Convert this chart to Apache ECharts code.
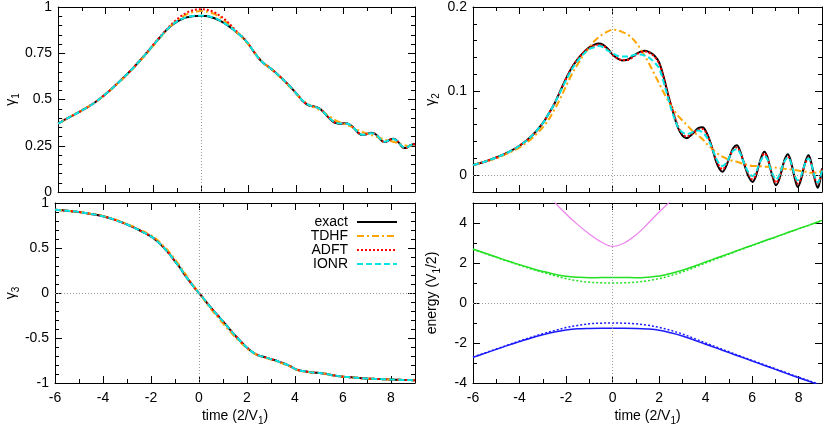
<!DOCTYPE html>
<html><head><meta charset="utf-8">
<script src="https://cdn.jsdelivr.net/npm/echarts@6/dist/echarts.min.js"></script>
<style>html,body{margin:0;padding:0;background:#fff}#c{width:830px;height:436px}</style>
</head><body><div id="c"></div>
<script>
// ---------- data ----------
const time = [-6,-5.5,-5,-4.5,-4,-3.5,-3,-2.75,-2.5,-2.25,
  -2,-1.75,-1.5,-1.25,-1,-0.8,-0.6,-0.4,-0.2,0,
  0.2,0.4,0.6,0.8,1.0,1.2,1.4,1.6,1.8,2.0,
  2.2,2.4,2.6,2.8,3.0,3.18,3.35,3.5,3.68,3.86,
  4.05,4.25,4.45,4.6,4.72,4.87,5.03,5.18,5.34,5.5,
  5.68,5.85,6.02,6.15,6.27,6.4,6.52,6.65,6.77,6.9,
  7.02,7.15,7.27,7.4,7.53,7.64,7.75,7.85,7.96,8.08,
  8.19,8.31,8.42,8.52,8.62,8.72,8.82,8.92,9.0];

const g1Exact = [0.370,0.406,0.441,0.480,0.530,0.588,0.650,0.684,0.719,0.756,
  0.794,0.831,0.868,0.899,0.921,0.935,0.944,0.949,0.952,0.952,
  0.951,0.946,0.938,0.926,0.911,0.894,0.874,0.853,0.830,0.800,
  0.763,0.728,0.700,0.681,0.661,0.641,0.621,0.602,0.579,0.555,
  0.527,0.496,0.474,0.466,0.463,0.458,0.447,0.428,0.406,0.386,
  0.372,0.368,0.372,0.371,0.363,0.350,0.333,0.316,0.308,0.310,
  0.316,0.320,0.318,0.306,0.287,0.273,0.270,0.276,0.284,0.288,
  0.284,0.268,0.250,0.239,0.238,0.245,0.253,0.258,0.259];
const g1TDHF = [0.370,0.406,0.441,0.480,0.529,0.586,0.647,0.681,0.716,0.753,
  0.791,0.829,0.866,0.900,0.928,0.946,0.960,0.970,0.976,0.978,
  0.976,0.970,0.960,0.945,0.926,0.903,0.877,0.851,0.826,0.797,
  0.762,0.728,0.701,0.679,0.658,0.638,0.618,0.599,0.576,0.551,
  0.524,0.498,0.479,0.468,0.460,0.451,0.441,0.429,0.414,0.400,
  0.386,0.376,0.368,0.362,0.356,0.348,0.340,0.332,0.325,0.319,
  0.313,0.308,0.303,0.297,0.291,0.286,0.282,0.278,0.275,0.272,
  0.268,0.263,0.258,0.254,0.251,0.249,0.249,0.250,0.252];
const g1ADFT = [0.370,0.406,0.441,0.480,0.530,0.588,0.650,0.684,0.720,0.757,
  0.796,0.835,0.871,0.905,0.934,0.954,0.969,0.980,0.986,0.988,
  0.986,0.980,0.969,0.953,0.934,0.910,0.882,0.856,0.831,0.800,
  0.763,0.728,0.700,0.681,0.661,0.641,0.621,0.602,0.579,0.555,
  0.527,0.496,0.475,0.466,0.463,0.458,0.447,0.428,0.407,0.387,
  0.373,0.369,0.372,0.370,0.362,0.349,0.333,0.317,0.309,0.311,
  0.316,0.319,0.317,0.305,0.287,0.274,0.271,0.276,0.283,0.287,
  0.283,0.268,0.251,0.240,0.239,0.245,0.253,0.257,0.258];
const g1IONR = [0.370,0.406,0.441,0.480,0.530,0.588,0.650,0.684,0.719,0.756,
  0.794,0.831,0.868,0.899,0.922,0.936,0.945,0.950,0.953,0.953,
  0.952,0.947,0.939,0.927,0.912,0.895,0.875,0.853,0.830,0.800,
  0.763,0.728,0.700,0.681,0.661,0.641,0.621,0.602,0.579,0.555,
  0.527,0.497,0.476,0.467,0.463,0.457,0.446,0.428,0.407,0.388,
  0.374,0.370,0.372,0.370,0.362,0.350,0.334,0.318,0.310,0.311,
  0.316,0.318,0.316,0.305,0.288,0.275,0.272,0.277,0.283,0.286,
  0.282,0.268,0.252,0.242,0.241,0.246,0.253,0.257,0.258];

const g2Exact = [0.012,0.016,0.021,0.027,0.035,0.046,0.062,0.073,0.085,0.100,
  0.115,0.128,0.138,0.146,0.152,0.155,0.1566,0.155,0.150,0.1435,
  0.139,0.1365,0.137,0.140,0.144,0.147,0.148,0.146,0.142,0.134,
  0.116,0.094,0.075,0.057,0.047,0.044,0.047,0.051,0.056,0.057,
  0.050,0.035,0.016,0.007,0.004,0.010,0.022,0.032,0.0355,0.027,
  0.011,-0.002,-0.008,-0.002,0.010,0.022,0.028,0.022,0.009,-0.004,
  -0.012,-0.006,0.006,0.019,0.025,0.019,0.006,-0.006,-0.014,-0.007,
  0.006,0.018,0.0237,0.017,0.004,-0.008,-0.015,-0.006,0.008];
const g2TDHF = [0.012,0.016,0.020,0.026,0.033,0.043,0.057,0.066,0.078,0.091,
  0.106,0.120,0.132,0.143,0.152,0.159,0.164,0.168,0.171,0.173,
  0.1725,0.1705,0.168,0.164,0.158,0.150,0.141,0.131,0.120,0.109,
  0.098,0.088,0.079,0.071,0.065,0.060,0.055,0.051,0.047,0.043,
  0.037,0.032,0.027,0.024,0.022,0.020,0.018,0.017,0.016,0.0145,
  0.013,0.012,0.011,0.011,0.0105,0.0105,0.0102,0.010,0.0098,0.0095,
  0.009,0.0085,0.008,0.0075,0.007,0.0068,0.0065,0.006,0.0055,0.005,
  0.0045,0.004,0.0035,0.003,0.003,0.003,0.0035,0.004,0.0045];
const g2ADFT = [0.012,0.016,0.021,0.027,0.035,0.046,0.062,0.073,0.085,0.100,
  0.115,0.128,0.138,0.146,0.151,0.154,0.155,0.154,0.149,0.143,
  0.139,0.137,0.137,0.139,0.143,0.146,0.147,0.145,0.141,0.133,
  0.116,0.094,0.076,0.059,0.049,0.046,0.048,0.051,0.054,0.055,
  0.049,0.035,0.018,0.010,0.007,0.012,0.022,0.030,0.033,0.026,
  0.012,0.001,-0.005,0.000,0.010,0.020,0.026,0.021,0.009,-0.002,
  -0.009,-0.004,0.006,0.017,0.022,0.017,0.006,-0.004,-0.010,-0.005,
  0.006,0.016,0.021,0.015,0.004,-0.006,-0.011,-0.004,0.007];
const g2IONR = [0.012,0.016,0.021,0.027,0.035,0.046,0.062,0.073,0.085,0.099,
  0.113,0.126,0.136,0.144,0.150,0.152,0.1535,0.152,0.148,0.145,
  0.142,0.141,0.141,0.142,0.1435,0.1435,0.142,0.139,0.134,0.127,
  0.110,0.090,0.072,0.058,0.051,0.049,0.050,0.052,0.053,0.051,
  0.045,0.034,0.020,0.013,0.011,0.014,0.022,0.029,0.031,0.025,
  0.012,0.003,-0.001,0.003,0.011,0.019,0.023,0.019,0.009,0.000,
  -0.005,-0.001,0.008,0.017,0.021,0.017,0.007,-0.002,-0.006,-0.002,
  0.007,0.016,0.020,0.015,0.005,-0.004,-0.009,-0.003,0.006];

const g3Exact = [0.925,0.914,0.899,0.879,0.853,0.812,0.761,0.732,0.700,0.666,
  0.629,0.578,0.512,0.440,0.352,0.283,0.205,0.132,0.063,0.000,
  -0.065,-0.132,-0.195,-0.255,-0.315,-0.378,-0.440,-0.500,-0.555,-0.607,
  -0.652,-0.685,-0.703,-0.718,-0.735,-0.748,-0.765,-0.780,-0.798,-0.822,
  -0.850,-0.864,-0.873,-0.879,-0.883,-0.886,-0.889,-0.894,-0.901,-0.910,
  -0.918,-0.925,-0.931,-0.933,-0.935,-0.938,-0.941,-0.944,-0.947,-0.949,
  -0.951,-0.953,-0.954,-0.955,-0.956,-0.957,-0.958,-0.959,-0.961,-0.962,
  -0.963,-0.964,-0.965,-0.966,-0.966,-0.967,-0.968,-0.969,-0.970];
const g3TDHF = [0.925,0.914,0.899,0.880,0.856,0.816,0.767,0.739,0.708,0.675,
  0.640,0.592,0.528,0.458,0.372,0.302,0.223,0.145,0.070,0.000,
  -0.072,-0.145,-0.213,-0.276,-0.338,-0.400,-0.460,-0.516,-0.567,-0.615,
  -0.655,-0.686,-0.705,-0.722,-0.740,-0.755,-0.770,-0.785,-0.803,-0.826,
  -0.852,-0.866,-0.875,-0.880,-0.884,-0.887,-0.890,-0.895,-0.902,-0.911,
  -0.919,-0.926,-0.931,-0.933,-0.935,-0.938,-0.941,-0.944,-0.947,-0.949,
  -0.951,-0.953,-0.954,-0.955,-0.956,-0.957,-0.958,-0.959,-0.961,-0.962,
  -0.963,-0.964,-0.965,-0.966,-0.966,-0.967,-0.968,-0.969,-0.970];
const g3ADFT = [0.925,0.914,0.899,0.879,0.853,0.812,0.761,0.732,0.700,0.666,
  0.629,0.578,0.512,0.440,0.352,0.283,0.205,0.132,0.063,0.000,
  -0.065,-0.132,-0.195,-0.255,-0.315,-0.378,-0.440,-0.500,-0.555,-0.607,
  -0.652,-0.685,-0.703,-0.718,-0.735,-0.748,-0.765,-0.780,-0.798,-0.822,
  -0.850,-0.864,-0.873,-0.879,-0.883,-0.886,-0.889,-0.894,-0.901,-0.910,
  -0.918,-0.925,-0.931,-0.933,-0.935,-0.938,-0.941,-0.944,-0.947,-0.949,
  -0.951,-0.953,-0.954,-0.955,-0.956,-0.957,-0.958,-0.959,-0.961,-0.962,
  -0.963,-0.964,-0.965,-0.966,-0.966,-0.967,-0.968,-0.969,-0.970];
const g3IONR = [0.925,0.914,0.899,0.879,0.853,0.812,0.761,0.732,0.700,0.666,
  0.629,0.578,0.512,0.440,0.352,0.283,0.205,0.132,0.063,0.000,
  -0.065,-0.132,-0.195,-0.255,-0.315,-0.378,-0.440,-0.500,-0.555,-0.607,
  -0.652,-0.685,-0.703,-0.718,-0.735,-0.748,-0.765,-0.780,-0.798,-0.822,
  -0.850,-0.864,-0.873,-0.879,-0.883,-0.886,-0.889,-0.894,-0.901,-0.910,
  -0.918,-0.925,-0.931,-0.933,-0.935,-0.938,-0.941,-0.944,-0.947,-0.949,
  -0.951,-0.953,-0.954,-0.955,-0.956,-0.957,-0.958,-0.959,-0.961,-0.962,
  -0.963,-0.964,-0.965,-0.966,-0.966,-0.967,-0.968,-0.969,-0.970];

const timeE = [-6,-5.5,-5,-4.5,-4,-3.5,-3,-2.5,-2,-1.5,-1,-0.5,0,0.5,1,1.5,2,2.5,3,3.5,4,4.5,5,5.5,6,6.5,7,7.5,8,8.5,9];
const eUpper = [2.70,2.50,2.30,2.10,1.92,1.74,1.58,1.44,1.34,1.29,1.265,1.27,1.28,1.275,1.265,1.29,1.35,1.48,1.64,1.84,2.05,2.26,2.47,2.68,2.89,3.10,3.30,3.51,3.72,3.92,4.13];
const eUpperDot = [2.68,2.48,2.28,2.08,1.89,1.70,1.53,1.37,1.22,1.11,1.04,1.01,1.00,1.01,1.04,1.11,1.22,1.37,1.55,1.77,2.00,2.22,2.44,2.66,2.87,3.08,3.29,3.50,3.71,3.91,4.12];
const eLower = [-2.72,-2.52,-2.32,-2.12,-1.93,-1.75,-1.59,-1.45,-1.35,-1.29,-1.27,-1.26,-1.26,-1.26,-1.27,-1.30,-1.36,-1.49,-1.65,-1.85,-2.06,-2.27,-2.48,-2.69,-2.90,-3.11,-3.32,-3.53,-3.74,-3.94,-4.15];
const eLowerDot = [-2.70,-2.50,-2.30,-2.10,-1.90,-1.71,-1.54,-1.38,-1.23,-1.12,-1.04,-1.01,-1.00,-1.01,-1.04,-1.11,-1.22,-1.37,-1.55,-1.77,-2.00,-2.22,-2.44,-2.66,-2.87,-3.08,-3.29,-3.50,-3.71,-3.91,-4.12];
const timeV = [-3,-2.5,-2,-1.5,-1,-0.5,0,0.5,1,1.5,2,2.5,3];
const eTop = [5.75,5.05,4.45,3.92,3.45,3.06,2.83,3.0,3.4,3.95,4.55,5.1,5.7];

const xTicks = [-6,-4,-2,0,2,4,6,8];
const y1Ticks = [0,0.25,0.5,0.75,1];
const y2Ticks = [0,0.1,0.2];
const y3Ticks = [-1,-0.5,0,0.5,1];
const y4Ticks = [-4,-2,0,2,4];
const methods = ['exact','TDHF','ADFT','IONR'];

// ---------- build ----------
const FONT = '"Liberation Sans", Arial, Helvetica, sans-serif';
function steps(a, b, s) { const r = []; for (let v = a; v <= b + 1e-9; v += s) r.push(Math.round(v * 1e6) / 1e6); return r; }

const grids = [
  {left: 49, top: 5, width: 366, height: 187},
  {left: 473, top: 5, width: 349, height: 187},
  {left: 49, top: 203, width: 366, height: 180},
  {left: 473, top: 203, width: 349, height: 180}
];
const nameStyle = {fontSize: 14, color: '#000', fontFamily: FONT, lineHeight: 20,
  rich: {s: {fontSize: 10, lineHeight: 10, verticalAlign: 'bottom', fontFamily: FONT, color: '#000'}}};

const xAxes = [], yAxes = [];
function tickAxis(list, gi, pos, min, max, ticks, len, o) {
  const ax = {
    type: 'value', gridIndex: gi, position: pos, min: min, max: max,
    splitLine: {show: false}, axisPointer: {show: false}, silent: true,
    axisLine: {show: !!o.line, onZero: false, lineStyle: {color: '#000', width: 1}},
    axisTick: {show: true, inside: true, length: len, customValues: ticks, lineStyle: {color: '#000', width: 1}},
    axisLabel: {show: !!o.labels, customValues: ticks, margin: o.margin || 5, color: '#000', fontSize: 14, fontFamily: FONT}
  };
  if (o.name) {
    ax.name = o.name; ax.nameLocation = 'middle'; ax.nameGap = o.nameGap;
    ax.nameTextStyle = nameStyle;
    if (o.rot) ax.nameRotate = 90;
  }
  list.push(ax);
  return list.length - 1;
}
function panelAxes(gi, ymin, ymax, yMaj, yMinStep, xLabels, yName, yGap) {
  const xMinor = steps(-6, 9, 1), yMinor = steps(ymin, ymax, yMinStep);
  const xi = tickAxis(xAxes, gi, 'bottom', -6, 9, xTicks, 7,
    {line: true, labels: xLabels, margin: 8, name: xLabels ? 'time (2/V{s|1})' : null, nameGap: 22});
  tickAxis(xAxes, gi, 'bottom', -6, 9, xMinor, 4, {});
  tickAxis(xAxes, gi, 'top', -6, 9, xTicks, 7, {line: true});
  tickAxis(xAxes, gi, 'top', -6, 9, xMinor, 4, {});
  const yi = tickAxis(yAxes, gi, 'left', ymin, ymax, yMaj, 7,
    {line: true, labels: true, margin: 6, name: yName, nameGap: yGap, rot: true});
  tickAxis(yAxes, gi, 'left', ymin, ymax, yMinor, 4, {});
  tickAxis(yAxes, gi, 'right', ymin, ymax, yMaj, 7, {line: true});
  tickAxis(yAxes, gi, 'right', ymin, ymax, yMinor, 4, {});
  return [xi, yi];
}
const P1 = panelAxes(0, 0, 1, y1Ticks, 0.05, false, 'γ{s|1}', 35);
const P2 = panelAxes(1, -0.02, 0.2, y2Ticks, 0.02, false, 'γ{s|2}', 32);
const P3 = panelAxes(2, -1, 1, y3Ticks, 0.1, true, 'γ{s|3}', 34);
const P4 = panelAxes(3, -4, 5, y4Ticks, 1, true, 'energy (V{s|1}/2)', 31);

const styles = {
  exact: {color: '#000000', width: 2, type: 'solid'},
  TDHF: {color: '#ffa500', width: 2, type: [7, 3, 2, 3]},
  ADFT: {color: '#ff0000', width: 2, type: [2, 2]},
  IONR: {color: '#00e5e5', width: 2, type: [6, 3]}
};
const zeroLine = (both) => ({
  silent: true, symbol: ['none', 'none'], label: {show: false}, animation: false,
  lineStyle: {color: '#999', type: [1, 2], width: 1},
  emphasis: {disabled: true},
  data: both ? [{xAxis: 0}, {yAxis: 0}] : [{xAxis: 0}]
});
function lineSeries(name, xs, ys, P, style, extra) {
  return Object.assign({
    type: 'line', name: name, xAxisIndex: P[0], yAxisIndex: P[1],
    data: xs.map((t, i) => [t, ys[i]]),
    symbol: 'none', showSymbol: false, smooth: 0.35, animation: false,
    lineStyle: style, itemStyle: {color: style.color}, emphasis: {disabled: true}
  }, extra || {});
}
const series = [];
const panelData = [
  [P1, [g1Exact, g1TDHF, g1ADFT, g1IONR], false],
  [P2, [g2Exact, g2TDHF, g2ADFT, g2IONR], true],
  [P3, [g3Exact, g3TDHF, g3ADFT, g3IONR], true]
];
panelData.forEach(([P, arrs, both]) => {
  methods.forEach((m, k) => {
    series.push(lineSeries(m, time, arrs[k], P, styles[m], k === 0 ? {markLine: zeroLine(both)} : null));
  });
});
const green = '#22e022', blue = '#1a1aff', violet = '#ee82ee';
series.push(lineSeries('upper', timeE, eUpper, P4, {color: green, width: 1.5, type: 'solid'}, {markLine: zeroLine(true)}));
series.push(lineSeries('upper adiabatic', timeE, eUpperDot, P4, {color: green, width: 1.5, type: [2, 2]}));
series.push(lineSeries('lower', timeE, eLower, P4, {color: blue, width: 1.5, type: 'solid'}));
series.push(lineSeries('lower adiabatic', timeE, eLowerDot, P4, {color: blue, width: 1.5, type: [2, 2]}));
series.push(lineSeries('top', timeV, eTop, P4, {color: violet, width: 1.2, type: 'solid'}));

const chart = echarts.init(document.getElementById('c'), null, {renderer: 'canvas'});
chart.setOption({
  animation: false,
  backgroundColor: '#fff',
  grid: grids,
  xAxis: xAxes,
  yAxis: yAxes,
  legend: {
    data: methods, orient: 'vertical', align: 'right', right: 427, top: 210,
    itemWidth: 40, itemHeight: 14, itemGap: 0, selectedMode: false,
    itemStyle: {opacity: 0},
    textStyle: {fontSize: 14, lineHeight: 14, color: '#000', fontFamily: FONT, padding: [0, 4, 0, 0]}
  },
  series: series
});
</script></body></html>
